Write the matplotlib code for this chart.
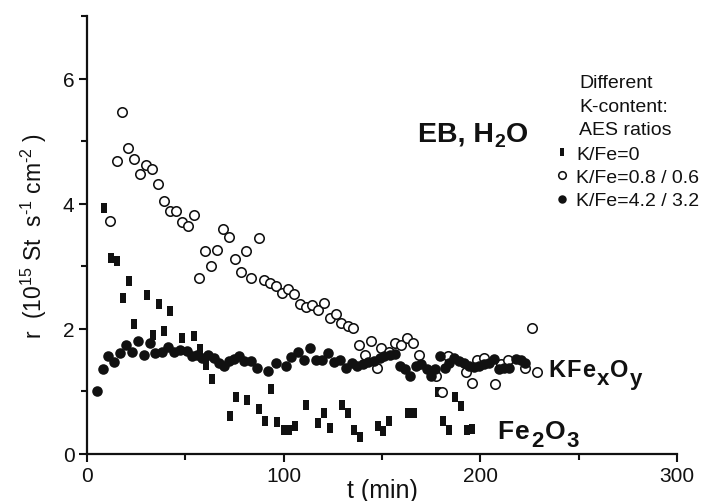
import matplotlib
matplotlib.use("Agg")
import matplotlib.pyplot as plt
from matplotlib.ticker import MultipleLocator

plt.rcParams['font.family'] = ['Liberation Sans', 'DejaVu Sans']
plt.rcParams['mathtext.default'] = 'regular'

# K/Fe = 0 (Fe2O3)
sq_t = [8.7, 12.1, 15.3, 18.1, 21.3, 24.0, 30.3, 33.4, 36.5, 39.4, 42.1, 48.4, 54.4, 57.5,
        60.4, 63.4, 72.8, 75.7, 81.5, 87.6, 90.7, 93.6, 96.7, 100.1, 102.5, 105.9, 111.5,
        117.6, 120.6, 123.6, 129.6, 132.8, 135.7, 138.8, 148.2, 150.7, 153.8, 163.2, 166.1,
        178.5, 181.1, 184.0, 187.1, 190.0, 193.0, 195.9]
sq_r = [3.93, 3.14, 3.09, 2.49, 2.76, 2.08, 2.54, 1.90, 2.40, 1.96, 2.29, 1.85, 1.88, 1.68,
        1.43, 1.20, 0.60, 0.91, 0.86, 0.72, 0.52, 1.04, 0.51, 0.38, 0.38, 0.44, 0.79,
        0.49, 0.66, 0.41, 0.79, 0.65, 0.38, 0.27, 0.45, 0.37, 0.52, 0.65, 0.65,
        0.99, 0.52, 0.38, 0.91, 0.76, 0.38, 0.40]

# K/Fe = 0.8 / 0.6
oc_t = [11.8, 15.0, 17.9, 21.0, 24.0, 27.1, 30.2, 33.2, 36.0, 39.2, 42.1, 45.4, 48.1, 51.2,
        54.2, 57.1, 60.2, 63.1, 66.3, 69.2, 72.3, 75.3, 78.3, 81.0, 83.4, 87.5, 90.2, 93.1,
        96.2, 99.2, 102.3, 105.2, 108.2, 111.2, 114.4, 117.5, 120.6, 123.4, 126.5, 129.4,
        132.5, 135.4, 138.5, 141.3, 144.4, 147.3, 149.5, 153.6, 156.4, 159.8, 162.7, 165.7,
        168.6, 177.6, 180.6, 183.6, 192.8, 195.9, 198.5, 201.9, 207.5, 210.4, 214.1, 222.9,
        226.1, 228.8]
oc_r = [3.72, 4.69, 5.47, 4.89, 4.71, 4.48, 4.62, 4.55, 4.31, 4.04, 3.89, 3.88, 3.71, 3.64,
        3.82, 2.81, 3.25, 3.01, 3.26, 3.59, 3.47, 3.11, 2.91, 3.25, 2.82, 3.46, 2.78, 2.73,
        2.68, 2.57, 2.64, 2.56, 2.39, 2.35, 2.38, 2.30, 2.41, 2.18, 2.23, 2.10,
        2.05, 2.01, 1.75, 1.59, 1.81, 1.38, 1.70, 1.63, 1.78, 1.74, 1.85, 1.78,
        1.59, 1.25, 0.99, 1.56, 1.31, 1.13, 1.51, 1.54, 1.12, 1.44, 1.50, 1.37,
        2.01, 1.31]

# K/Fe = 4.2 / 3.2 (KFexOy)
fc_t = [5.0, 8.0, 10.9, 13.8, 16.9, 19.8, 22.9, 25.9, 28.8, 31.9, 34.8, 37.9, 41.1, 44.2,
        47.2, 50.6, 53.2, 56.1, 58.7, 61.7, 64.6, 67.2, 69.7, 72.3, 74.8, 77.4, 79.9, 83.4,
        86.3, 91.9, 96.2, 101.3, 103.8, 107.3, 110.3, 113.6, 116.6, 119.5, 122.6, 125.5,
        128.5, 131.5, 134.5, 137.4, 140.5, 143.1, 146.1, 149.0, 151.2, 154.1, 156.4, 158.9,
        161.8, 164.4, 167.3, 170.0, 172.9, 175.1, 176.8, 179.4, 182.0, 184.0, 186.6, 189.1,
        191.7, 194.2, 196.8, 199.3, 201.9, 204.5, 207.0, 209.6, 212.1, 214.7, 218.1, 220.6,
        222.6]
fc_r = [1.01, 1.36, 1.56, 1.47, 1.62, 1.74, 1.63, 1.81, 1.59, 1.77, 1.62, 1.63, 1.71, 1.63,
        1.66, 1.65, 1.57, 1.58, 1.53, 1.58, 1.53, 1.46, 1.41, 1.48, 1.52, 1.57, 1.48, 1.49,
        1.37, 1.33, 1.45, 1.41, 1.55, 1.63, 1.50, 1.69, 1.50, 1.50, 1.61, 1.47,
        1.50, 1.38, 1.45, 1.41, 1.44, 1.47, 1.49, 1.54, 1.56, 1.58, 1.60, 1.41,
        1.36, 1.24, 1.41, 1.44, 1.36, 1.25, 1.36, 1.56, 1.38, 1.45, 1.53, 1.49,
        1.46, 1.41, 1.39, 1.41, 1.44, 1.45, 1.52, 1.36, 1.37, 1.38, 1.52, 1.51,
        1.46]

labels = ['K/Fe=0', 'K/Fe=0.8 / 0.6', 'K/Fe=4.2 / 3.2']
xticks = [0, 100, 200, 300]
yticks = [0, 2, 4, 6]

ink = '#111111'
W, H = 725, 502
rect = [(-0.3, -0.5), (0.3, -0.5), (0.3, 0.5), (-0.3, 0.5), (-0.3, -0.5)]

fig = plt.figure(figsize=(W / 100, H / 100), dpi=100)
ax = fig.add_axes([87 / W, 47 / H, 590 / W, 438 / H])

ax.plot(sq_t, sq_r, linestyle='none', marker=rect, markersize=6.6, color=ink,
        markeredgewidth=0, label=labels[0], zorder=3)
ax.plot(oc_t, oc_r, linestyle='none', marker='o', markersize=6.8, markerfacecolor='white',
        markeredgecolor=ink, markeredgewidth=1.15, label=labels[1], zorder=4)
ax.plot(fc_t, fc_r, linestyle='none', marker='o', markersize=7.6, color=ink,
        markeredgewidth=0, label=labels[2], zorder=5)

ax.set_xlim(0, 300)
ax.set_ylim(0, 7)
ax.set_xticks(xticks)
ax.set_yticks(yticks)
ax.xaxis.set_minor_locator(MultipleLocator(50))
ax.yaxis.set_minor_locator(MultipleLocator(1))

for s in ['top', 'right']:
    ax.spines[s].set_visible(False)
for s in ['left', 'bottom']:
    ax.spines[s].set_linewidth(1.6)
    ax.spines[s].set_color(ink)

ax.tick_params(which='major', direction='out', length=6, width=1.5, colors=ink,
               labelsize=15, pad=3)
ax.tick_params(which='minor', direction='out', length=4, width=1.5, colors=ink)

ax.set_xlabel('t (min)', fontsize=18, color=ink)
ax.xaxis.set_label_coords(0.5, -0.055, transform=ax.transAxes)
ax.set_ylabel('r  (10$^{15}$ St  s$^{\u20101}$ cm$^{\u20102}$ )', fontsize=16.5, color=ink,
              labelpad=10)

renderer = fig.canvas.get_renderer()


def chain(x0, y0, pieces, gap):
    x = x0
    for s, size, dy in pieces:
        t = fig.text(x / W, 1 - (y0 + dy) / H, s, fontsize=size, fontweight='bold',
                     color=ink, ha='left', va='baseline')
        x = t.get_window_extent(renderer).x1 + gap


chain(418, 142, [('EB, H', 20.5, 0), ('2', 14, 5), ('O', 20.5, 0)], 0.5)
chain(548, 377, [('K', 17, 0), ('F', 17, 0), ('e', 17, 0), ('x', 16, 8),
                 ('O', 17, 0), ('y', 16, 8)], 1.3)
chain(497, 439, [('F', 19, 0), ('e', 19, 0), ('2', 16, 8), ('O', 19, 0), ('3', 16, 8)], 1.5)

for i, line in enumerate(['Different', 'K-content:', 'AES ratios']):
    fig.text(579 / W, 1 - (88 + 23.5 * i) / H, line, fontsize=14, color=ink,
             ha='left', va='baseline')

leg = ax.legend(loc='upper left', bbox_to_anchor=(556 / W, 1 - 146 / H),
                bbox_transform=fig.transFigure, frameon=False, fontsize=14,
                handlelength=0.6, handletextpad=0.45, labelspacing=0.3,
                borderpad=0, borderaxespad=0, markerscale=0.8)
for t in leg.get_texts():
    t.set_color(ink)

fig.savefig('out.png', dpi=100)
